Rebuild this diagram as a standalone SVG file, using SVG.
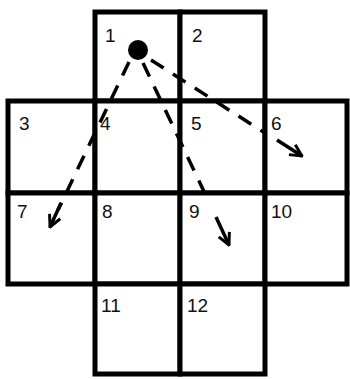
<svg xmlns="http://www.w3.org/2000/svg" width="350" height="379" viewBox="0 0 350 379">
<style>
.cell{fill:#fff;stroke:#000;stroke-width:5}
.lbl{font-family:"Liberation Sans",Arial,sans-serif;font-size:19px;fill:#111}
.dash{fill:none;stroke:#000;stroke-width:3.5;stroke-dasharray:15 11}
.tip{fill:none;stroke:#000;stroke-width:3.5;marker-end:url(#ah)}
</style>
<defs>
<marker id="ah" viewBox="0 0 10 10" refX="9" refY="5" markerWidth="4.2" markerHeight="4.2" orient="auto" markerUnits="strokeWidth">
<polyline points="1,1 9,5 1,9" fill="none" stroke="#000" stroke-width="2"/>
</marker>
</defs>
<rect width="350" height="379" fill="#fff"/>
<g id="cell-1"><rect class="cell" x="95" y="12" width="85" height="89"/><text class="lbl" x="105" y="42">1</text></g>
<g id="cell-2"><rect class="cell" x="180" y="12" width="85" height="89"/><text class="lbl" x="192" y="42">2</text></g>
<g id="cell-3"><rect class="cell" x="8" y="101" width="87" height="92"/><text class="lbl" x="19" y="130">3</text></g>
<g id="cell-4"><rect class="cell" x="95" y="101" width="85" height="92"/><text class="lbl" x="100" y="130">4</text></g>
<g id="cell-5"><rect class="cell" x="180" y="101" width="85" height="92"/><text class="lbl" x="191" y="130">5</text></g>
<g id="cell-6"><rect class="cell" x="265" y="101" width="82" height="92"/><text class="lbl" x="271" y="130">6</text></g>
<g id="cell-7"><rect class="cell" x="8" y="193" width="87" height="91"/><text class="lbl" x="17" y="218">7</text></g>
<g id="cell-8"><rect class="cell" x="95" y="193" width="85" height="91"/><text class="lbl" x="102" y="218">8</text></g>
<g id="cell-9"><rect class="cell" x="180" y="193" width="85" height="91"/><text class="lbl" x="189" y="218">9</text></g>
<g id="cell-10"><rect class="cell" x="265" y="193" width="82" height="91"/><text class="lbl" x="271" y="218">10</text></g>
<g id="cell-11"><rect class="cell" x="95" y="284" width="85" height="90"/><text class="lbl" x="101" y="312">11</text></g>
<g id="cell-12"><rect class="cell" x="180" y="284" width="85" height="90"/><text class="lbl" x="187" y="312">12</text></g>
<g id="connectors">
<path class="dash" d="M129,62 L58,210"/>
<path class="tip" d="M61,203 L50,227"/>
<path class="dash" d="M143,63 L209,202"/>
<path class="tip" d="M216,217 L229,245"/>
<path class="dash" d="M151,60 L265,133"/>
<path class="tip" d="M277,140 L302,156"/>
</g>
<g id="origin"><circle cx="138" cy="50" r="10" fill="#000"/></g>
</svg>
